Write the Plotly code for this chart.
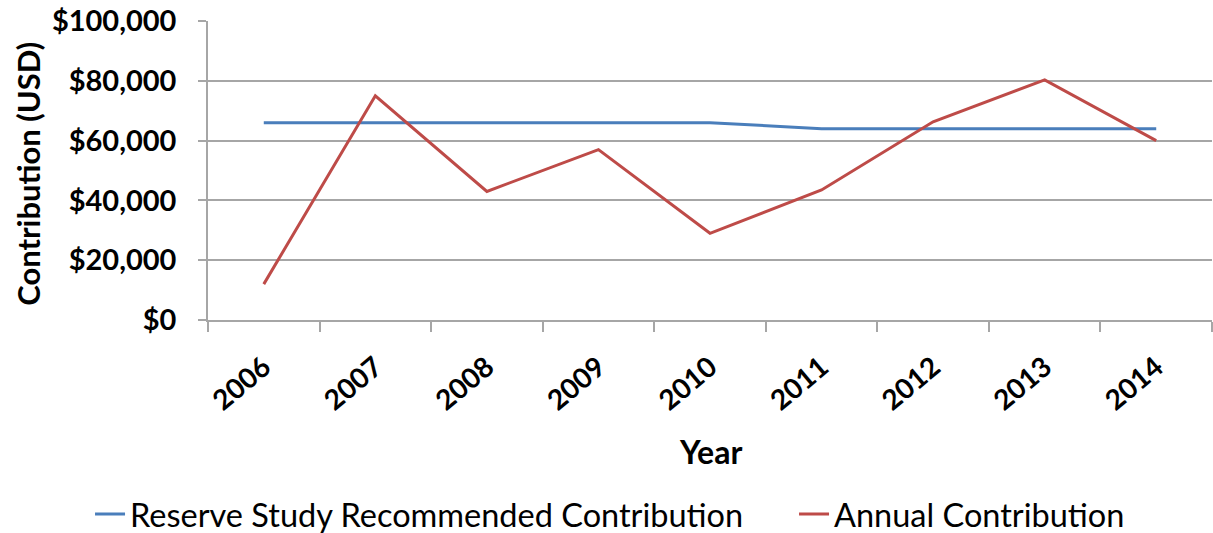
import plotly.graph_objects as go

# Contribution history by year
years = ["2006", "2007", "2008", "2009", "2010", "2011", "2012", "2013", "2014"]
recommended = [66000, 66000, 66000, 66000, 66000, 64000, 64000, 64000, 64000]
annual = [12000, 75000, 43000, 57000, 29000, 43500, 66300, 80300, 60000]

y_ticks = [0, 20000, 40000, 60000, 80000, 100000]
y_tick_text = ["$0", "$20,000", "$40,000", "$60,000", "$80,000", "$100,000"]

FONT = "Lato"
GRID = "#a6a6a6"

fig = go.Figure()
fig.add_trace(go.Scatter(
    x=years, y=recommended, mode="lines",
    name="Reserve Study Recommended Contribution",
    line=dict(color="#4a7ebb", width=3),
    legend="legend",
))
fig.add_trace(go.Scatter(
    x=years, y=annual, mode="lines",
    name="Annual Contribution",
    line=dict(color="#be4b48", width=3),
    legend="legend2",
))

legend_style = dict(
    orientation="h", xanchor="left", y=-0.65, yanchor="middle",
    font=dict(family=FONT, size=32.5, color="black"),
    itemwidth=30, bgcolor="rgba(0,0,0,0)",
)

fig.update_layout(
    width=1213, height=533,
    margin=dict(l=208, r=1, t=21, b=213, autoexpand=False),
    paper_bgcolor="white", plot_bgcolor="white",
    font=dict(family=FONT, color="black"),
    showlegend=True,
    legend=dict(x=-0.1175, **legend_style),
    legend2=dict(x=0.5837, **legend_style),
    annotations=[
        dict(text="<b>Year</b>", x=0.5, y=-0.441, xref="paper", yref="paper",
             xanchor="center", yanchor="middle",
             showarrow=False, font=dict(family=FONT, size=32)),
        dict(text="<b>Contribution (USD)</b>", x=-0.179, y=0.49,
             xref="paper", yref="paper", xanchor="center", yanchor="middle",
             textangle=-90, showarrow=False,
             font=dict(family=FONT, size=31)),
    ],
)

fig.update_xaxes(
    type="category", range=[-0.5, 8.5], automargin=False,
    tickson="boundaries", ticks="outside", ticklen=10, tickcolor=GRID,
    tickwidth=1.5, ticklabelstandoff=18,
    showline=True, linecolor=GRID, linewidth=1.5,
    showgrid=False, tickangle=-40,
    tickfont=dict(family=FONT, size=28, color="black", weight="bold"),
)
fig.update_yaxes(
    range=[0, 100000], tickvals=y_ticks, ticktext=y_tick_text,
    automargin=False,
    ticks="outside", ticklen=8, tickcolor=GRID, tickwidth=1.5,
    ticklabelstandoff=16,
    showline=True, linecolor=GRID, linewidth=1.5,
    showgrid=True, gridcolor=GRID, gridwidth=1.5,
    zeroline=False,
    tickfont=dict(family=FONT, size=29, color="black", weight="bold"),
)

fig.write_html("out.html")
